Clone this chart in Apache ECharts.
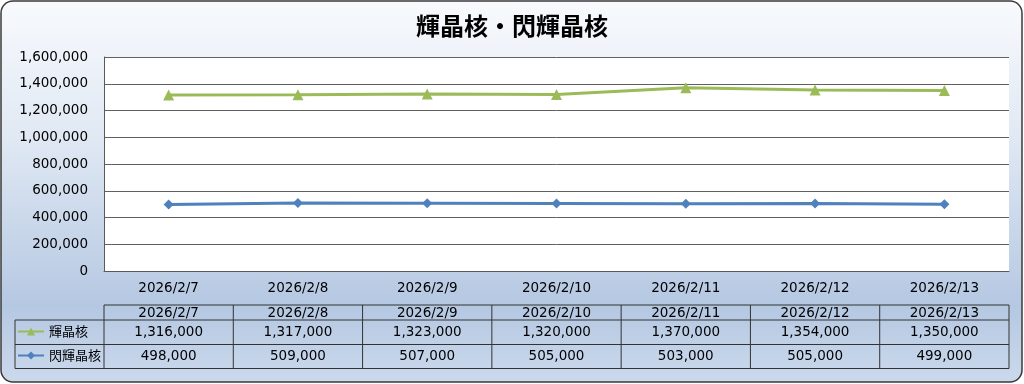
<!DOCTYPE html>
<html><head><meta charset="utf-8">
<script src="https://cdn.jsdelivr.net/npm/echarts@6/dist/echarts.min.js"></script>
<style>html,body{margin:0;padding:0;background:#fff}#c{width:1024px;height:384px}</style>
</head><body><div id="c"></div>
<script>
const chartTitle = '輝晶核・閃輝晶核';
const categories = ['2026/2/7','2026/2/8','2026/2/9','2026/2/10','2026/2/11','2026/2/12','2026/2/13'];
const seriesNames = ['輝晶核','閃輝晶核'];
const kishoukaku = [1316000,1317000,1323000,1320000,1370000,1354000,1350000];
const senkishoukaku = [498000,509000,507000,505000,503000,505000,499000];
const yMin = 0, yMax = 1600000, yStep = 200000;

const FONT = '"DejaVu Sans", "Noto Sans CJK JP", sans-serif';
const JFONT = '"Noto Sans CJK JP", sans-serif';
const FS = 13.5;
const fmt = v => Number(v).toLocaleString('en-US');
const GREEN = '#9bbb59', BLUE = '#4f81bd';
const GRID = {left:104, right:15, top:57, bottom:113};

const chart = echarts.init(document.getElementById('c'), null, {renderer:'canvas'});
const legendBase = {orient:'horizontal', left:17, padding:0, itemWidth:26, itemHeight:10, itemGap:0,
  textStyle:{fontFamily:JFONT, fontSize:13, color:'#000', fontWeight:'normal'}};
const base = {
  animation:false,
  backgroundColor:'#ffffff',
  title:{text:chartTitle, left:'center', top:9, textStyle:{fontFamily:JFONT, fontSize:24, fontWeight:'bold', color:'#000'}},
  legend:[
    Object.assign({}, legendBase, {top:325, data:[seriesNames[0]]}),
    Object.assign({}, legendBase, {top:349, data:[seriesNames[1]]})
  ],
  grid:{left:GRID.left, right:GRID.right, top:GRID.top, bottom:GRID.bottom, show:true, backgroundColor:'#ffffff', borderWidth:0, containLabel:false},
  xAxis:{type:'category', data:categories, boundaryGap:true,
    axisLine:{show:true, lineStyle:{color:'#595959'}}, axisTick:{show:false},
    axisLabel:{fontFamily:FONT, fontSize:FS, color:'#000', margin:11}},
  yAxis:{type:'value', min:yMin, max:yMax, interval:yStep,
    axisLine:{show:true, lineStyle:{color:'#595959'}}, axisTick:{show:false},
    splitLine:{lineStyle:{color:'#606060', width:1}},
    axisLabel:{fontFamily:FONT, fontSize:FS, color:'#000', margin:16, formatter:fmt}},
  series:[
    {name:seriesNames[0], type:'line', data:kishoukaku, color:GREEN, symbol:'triangle', symbolSize:11,
      lineStyle:{width:3, color:GREEN}, itemStyle:{color:GREEN}},
    {name:seriesNames[1], type:'line', data:senkishoukaku, color:BLUE, symbol:'diamond', symbolSize:10,
      lineStyle:{width:3, color:BLUE}, itemStyle:{color:BLUE}}
  ]
};
chart.setOption(base);

const c0 = chart.convertToPixel({xAxisIndex:0}, categories[0]);
const c1 = chart.convertToPixel({xAxisIndex:0}, categories[1]);
const w = c1 - c0;
const left = c0 - w/2;
const right = left + w*categories.length;
const yTop = 305, yH = 320, yR1 = 344.5, yB = 368.5, xL = 15;
const lineStyle = {stroke:'#333333', lineWidth:1};
const els = [];
els.push({type:'rect', z:-100, silent:true,
  shape:{x:1, y:1, width:1021, height:381, r:12},
  style:{stroke:'#3a3a3a', lineWidth:1.5,
    fill:new echarts.graphic.LinearGradient(0,0,0,1,[
      {offset:0, color:'#f8fafd'},{offset:0.35, color:'#e1e9f4'},{offset:0.8, color:'#b5c8e2'},{offset:1, color:'#cbd9ec'}])}});
els.push({type:'line', z:50, shape:{x1:left,y1:yTop,x2:right,y2:yTop}, style:lineStyle});
[yH, yR1, yB].forEach(y=>els.push({type:'line', z:50, shape:{x1:xL,y1:y,x2:right,y2:y}, style:lineStyle}));
els.push({type:'line', z:50, shape:{x1:xL,y1:yH,x2:xL,y2:yB}, style:lineStyle});
for (let i=0;i<=categories.length;i++){
  const x = left + i*w;
  els.push({type:'line', z:50, shape:{x1:x,y1:yTop,x2:x,y2:yB}, style:lineStyle});
}
const rows = [categories, kishoukaku.map(fmt), senkishoukaku.map(fmt)];
const rowY = [(yTop+yH)/2 + 0.5, (yH+yR1)/2, (yR1+yB)/2];
rows.forEach((r,ri)=>r.forEach((t,i)=>{
  const cx = chart.convertToPixel({xAxisIndex:0}, categories[i]);
  els.push({type:'text', z:60, x:cx, y:rowY[ri],
    style:{text:String(t), fontFamily:FONT, fontSize:FS, fill:'#000', align:'center', verticalAlign:'middle'}});
}));
chart.setOption({graphic:{elements:els}});
</script></body></html>
